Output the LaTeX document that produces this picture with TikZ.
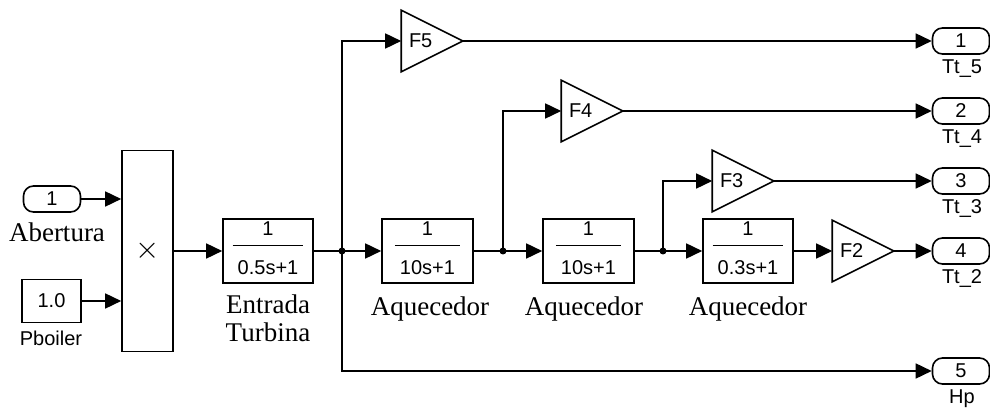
\documentclass[tikz,border=0pt]{standalone}
\usepackage{fontspec}
\setmainfont{Liberation Sans}
\newfontfamily\serfont{Liberation Serif}
\usetikzlibrary{arrows.meta,positioning}
\setlength{\arrayrulewidth}{1.5pt}
\newcommand{\tfn}[1]{\begin{tabular}{@{\hspace{5pt}}c@{\hspace{5pt}}}\rule[-9pt]{0pt}{0pt}1\\\hline\rule{0pt}{28pt}#1\end{tabular}}

\begin{document}
\begin{tikzpicture}[x=1pt,y=-1pt,font=\fontsize{20}{21}\selectfont,line width=1.6pt,
blk/.style={draw,minimum width=90pt,minimum height=64pt,inner sep=0pt},
gain/.style={minimum width=60pt,minimum height=60pt,inner sep=0pt,text width=46pt,align=left},
port/.style={draw,rounded corners=10pt,minimum width=57pt,minimum height=26pt,inner sep=0pt},
lbl/.style={font=\serfont\fontsize{27}{28}\selectfont,align=center,inner sep=0pt},
plbl/.style={inner sep=0pt},
arr/.style={-{Triangle[length=16pt,width=15pt]}}]
\useasboundingbox (0,0) rectangle (990,411);
% inputs
\node[port] (in1) at (52,199) {1};
\node[lbl] (abertura) at (57,232) {Abertura};
\node[draw,minimum width=59pt,minimum height=43pt,inner sep=0pt] (pboil) at (51.5,301) {1.0};
\node[plbl] (pboillbl) at (51,338) {Pboiler};
\node[draw,minimum width=51pt,minimum height=201pt,inner sep=0pt] (prod) at (147.5,251) {\scalebox{1.5}{$\times$}};
% transfer functions
\node[blk] (tf1) at (268,251) {\tfn{0.5s+1}};
\node[lbl] (tf1lbl) at (268,318) {Entrada\\Turbina};
\node[blk,minimum width=91pt] (tf2) at (427.5,251) {\tfn{10s+1}};
\node[lbl] (tf2lbl) at (430,309) {Aquecedor};
\node[blk,minimum width=91pt] (tf3) at (588.5,251) {\tfn{10s+1}};
\node[lbl] (tf3lbl) at (584,309) {Aquecedor};
\node[blk] (tf4) at (748,251) {\tfn{0.3s+1}};
\node[lbl] (tf4lbl) at (748,309) {Aquecedor};
% gains
\node[gain] (g5) at (432,41) {F5};
\node[gain] (g4) at (592,111) {F4};
\node[gain] (g3) at (743,181) {F3};
\node[gain] (g2) at (863,251) {F2};
\foreach \g in {g5,g4,g3,g2}
  \draw (\g.north west)--(\g.east)--(\g.south west)--cycle;
% outputs
\node[port] (out1) at (961,41) {1};
\node[plbl] at (962,69) {Tt\_5};
\node[port] (out2) at (961,111) {2};
\node[plbl] at (962,139) {Tt\_4};
\node[port] (out3) at (961,181) {3};
\node[plbl] at (962,209) {Tt\_3};
\node[port] (out4) at (961,251) {4};
\node[plbl] at (962,279) {Tt\_2};
\node[port] (out5) at (961,371) {5};
\node[plbl] at (962,399) {Hp};
% branch points
\coordinate (j1) at (342,251);
\coordinate (j2) at (503,251);
\coordinate (j3) at (663,251);
\draw[arr] (in1.east)--(in1.east-|prod.west);
\draw[arr] (pboil.east)--(pboil.east-|prod.west);
\draw[arr] (prod)--(tf1);
\draw (tf1)--(j1);
\draw[arr] (j1)--(tf2);
\draw[arr] (j1)|-(g5);
\draw[arr] (j1)|-(out5);
\draw (tf2)--(j2);
\draw[arr] (j2)--(tf3);
\draw[arr] (j2)|-(g4);
\draw (tf3)--(j3);
\draw[arr] (j3)--(tf4);
\draw[arr] (j3)|-(g3);
\draw[arr] (tf4)--(g2);
\draw[arr] (g5)--(out1);
\draw[arr] (g4)--(out2);
\draw[arr] (g3)--(out3);
\draw[arr] (g2)--(out4);
\foreach \j in {j1,j2,j3}
  \fill (\j) circle (3.5pt);
\end{tikzpicture}
\end{document}
